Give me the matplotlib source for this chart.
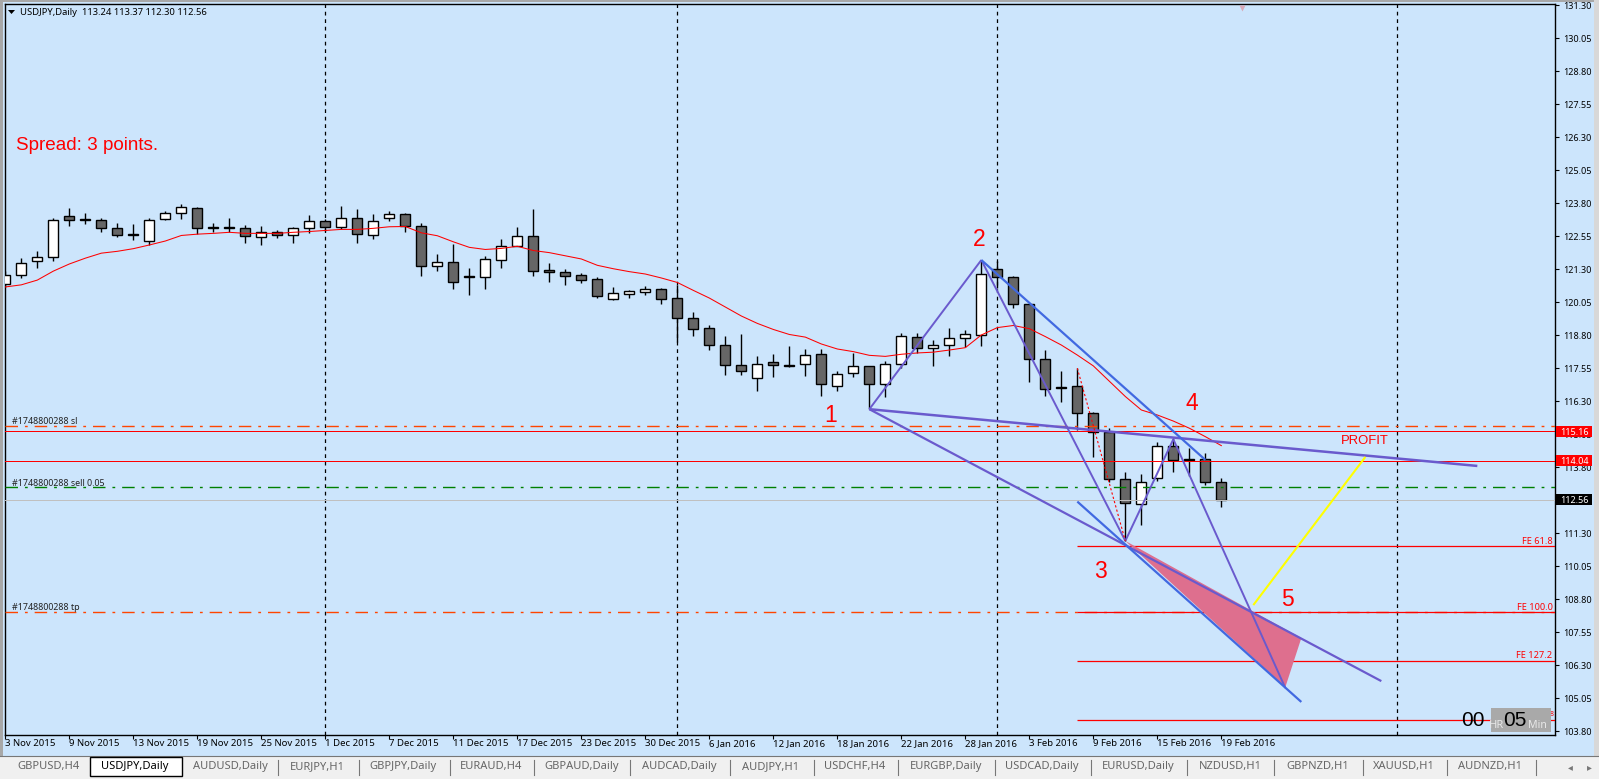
import matplotlib
matplotlib.use("Agg")
import matplotlib.pyplot as plt
from matplotlib.patches import Rectangle, Polygon
from matplotlib.transforms import blended_transform_factory

W, H = 1599, 779
BG = "#CCE5FC"
UI_FONT = ["Noto Sans", "DejaVu Sans"]
ARIAL = ["Liberation Sans", "DejaVu Sans"]

# ---------- data ----------
opens = [120.75,121.06,121.59,121.74,123.29,123.18,123.14,122.84,122.61,122.35,123.18,123.44,123.60,122.88,122.88,122.84,122.50,122.69,122.57,122.84,123.10,122.88,123.22,122.57,123.22,123.37,
         122.91,121.42,121.55,121.03,121.01,121.65,122.18,122.54,121.25,121.17,121.06,120.91,120.17,120.36,120.44,120.53,120.22,119.43,119.05,118.44,117.65,117.16,117.76,117.65,117.69,
         118.07,116.86,117.35,117.62,116.93,117.69,118.71,118.30,118.41,118.68,118.79,121.29,120.99,119.96,117.88,116.82,116.86,115.83,115.14,113.33,112.39,113.37,114.58,114.09,114.09,113.24]
highs = [121.22,121.70,122.00,123.25,123.60,123.44,123.22,123.06,123.00,123.25,123.48,123.75,123.63,123.03,123.25,122.95,122.91,122.76,122.88,123.33,123.20,123.67,123.56,123.37,123.48,123.41,
         123.03,121.85,122.23,121.32,121.79,122.42,122.88,123.56,121.51,121.29,121.13,120.98,120.60,120.49,120.64,120.57,120.69,119.69,119.16,118.75,118.82,117.99,118.07,118.37,118.26,
         118.26,117.43,118.11,117.64,117.80,118.86,118.86,118.60,119.05,118.99,121.64,121.60,121.04,119.97,118.22,117.43,117.54,115.87,115.27,113.61,113.54,114.75,114.91,114.51,114.32,113.37]
lows = [120.60,120.97,121.35,121.61,122.94,123.01,122.71,122.52,122.40,122.22,123.17,123.20,122.61,122.71,122.72,122.30,122.22,122.48,122.30,122.67,122.75,122.80,122.30,122.45,123.13,122.71,
        121.03,121.23,120.55,120.31,120.55,121.35,122.16,121.05,120.82,120.69,120.78,120.21,120.14,120.21,120.33,119.98,118.55,118.77,118.24,117.30,117.30,116.69,117.22,117.60,117.26,
        116.50,116.69,117.22,115.99,116.47,117.54,118.11,117.64,118.02,118.36,118.40,120.57,119.84,117.03,116.50,116.28,115.20,114.19,113.25,111.00,111.60,113.26,113.60,113.46,113.12,112.30]
closes = [121.06,121.54,121.74,123.14,123.14,123.14,122.84,122.57,122.57,123.14,123.44,123.63,122.84,122.84,122.84,122.54,122.69,122.57,122.84,123.10,122.88,123.25,122.61,123.10,123.37,122.91,
          121.42,121.55,120.82,121.01,121.66,122.19,122.54,121.23,121.17,121.05,120.89,120.29,120.38,120.45,120.53,120.17,119.43,119.01,118.43,117.65,117.42,117.72,117.65,117.62,118.03,
          116.93,117.31,117.62,116.93,117.69,118.75,118.30,118.41,118.68,118.83,121.10,120.99,119.96,117.88,116.74,116.78,115.83,115.13,113.33,112.43,113.22,114.58,114.07,114.07,113.22,112.56]
ma_values = [120.62,120.70,120.88,121.22,121.49,121.71,121.90,121.97,122.07,122.21,122.36,122.57,122.62,122.65,122.69,122.65,122.65,122.65,122.69,122.72,122.76,122.80,122.80,122.84,122.90,122.91,
             122.67,122.56,122.33,122.12,122.04,122.08,122.16,122.00,121.92,121.80,121.68,121.44,121.31,121.20,121.11,120.96,120.79,120.49,120.20,119.86,119.52,119.24,119.01,118.82,118.72,
             118.46,118.27,118.17,118.03,117.99,118.07,118.12,118.15,118.23,118.32,118.80,119.08,119.16,119.04,118.74,118.42,118.04,117.63,117.05,116.47,115.96,115.77,115.54,115.27,114.95,114.61]
date_labels = ["3 Nov 2015","9 Nov 2015","13 Nov 2015","19 Nov 2015","25 Nov 2015","1 Dec 2015","7 Dec 2015",
               "11 Dec 2015","17 Dec 2015","23 Dec 2015","30 Dec 2015","6 Jan 2016","12 Jan 2016","18 Jan 2016",
               "22 Jan 2016","28 Jan 2016","3 Feb 2016","9 Feb 2016","15 Feb 2016","19 Feb 2016"]
date_ticks = [0,4,8,12,16,20,24,28,32,36,40,44,48,52,56,60,64,68,72,76]
price_ticks = [131.30,130.05,128.80,127.55,126.30,125.05,123.80,122.55,121.30,120.05,118.80,117.55,116.30,
               115.05,113.80,112.55,111.30,110.05,108.80,107.55,106.30,105.05,103.80]
period_bars = [20,42,62,87]

# wave points (bar, price)
p1 = (54,115.99); p2 = (61,121.64); p3 = (70,111.00); p4 = (73,114.85)
purple_thin = [(p1,p2),(p2,p3),(p3,p4),(p4,(80,105.43))]
purple_lower = (p1,(86,105.69))
purple_upper = (p1,(92,113.84))
blue_upper = (p2,(75,114.07))
blue_lower = ((67,112.49),(81,104.90))
red_dotted = ((67,117.54),p3)
yellow_line = ((78,108.57),(85,114.18))
triangle = [p3,(81,107.32),(80,105.46)]

sl_price, tp_price, open_price = 115.34, 108.31, 113.03
stop_line, target_line, bid_line = 115.16, 114.04, 112.56
fe_levels = [110.81,108.31,106.47,104.22]
fe_names = ["FE 61.8","FE 100.0","FE 127.2"]
fe_start_bar = 67

tabs = ["GBPUSD,H4","USDJPY,Daily","AUDUSD,Daily","EURJPY,H1","GBPJPY,Daily","EURAUD,H4","GBPAUD,Daily",
        "AUDCAD,Daily","AUDJPY,H1","USDCHF,H4","EURGBP,Daily","USDCAD,Daily","EURUSD,Daily","NZDUSD,H1",
        "GBPNZD,H1","XAUUSD,H1","AUDNZD,H1"]
tab_centres = [48,135,230,317,403,491,582,679,770,855,946,1042,1138,1230,1318,1404,1490]
tab_seps = [278,359,450,534,630,730,814,898,995,1091,1187,1274,1363,1447,1536]

# ---------- layout ----------
fig = plt.figure(figsize=(W/100, H/100), dpi=100, facecolor=BG)
L, R, T, B = 4.5, 1554.5, 3.5, 734.5
ax = fig.add_axes([L/W, (H-B)/H, (R-L)/W, (B-T)/H], facecolor=BG)
def px(x, y):
    return x/W, 1-y/H
X0, DX = 5.33, 16.0
PY0, PS = 5.0, 33.0/1.25
ax.set_xlim((L-X0)/DX, (R-X0)/DX)
ax.set_ylim(131.30-(B-PY0)/PS, 131.30-(T-PY0)/PS)
for s in ax.spines.values():
    s.set_linewidth(1.0); s.set_color("black")

# window chrome
fig.patches.extend([
    Rectangle((0,0),3/W,1,transform=fig.transFigure,fc="#A8A8A8",ec="none"),
    Rectangle((0,1-1.5/H),1,1.5/H,transform=fig.transFigure,fc="#A8A8A8",ec="none"),
    Rectangle((1594/W,0),5/W,1,transform=fig.transFigure,fc="#D8D8D8",ec="none"),
    Rectangle((0,0),1,(H-756)/H,transform=fig.transFigure,fc="#F0F0F0",ec="none"),
])
fig.add_artist(plt.Line2D([0,1],[1-756/H]*2,color="#777777",lw=0.8))

# period separators
ax.vlines(period_bars, *ax.get_ylim(), color="black", lw=0.9, linestyles=(0,(3,3)), zorder=1)

# candles
bars = list(range(len(closes)))
ax.vlines(bars, lows, highs, color="black", lw=1.0, zorder=2)
bottoms = [min(o,c) for o,c in zip(opens,closes)]
heights = [abs(c-o) for o,c in zip(opens,closes)]
cols = ["white" if c>o else "#666666" for o,c in zip(opens,closes)]
ax.bar(bars, heights, bottom=bottoms, width=0.625, color=cols, edgecolor="black", lw=1.0, zorder=3)

# moving average
ax.plot(bars, ma_values, color="#FF0000", lw=0.75, zorder=4)

# order / level lines
ax.axhline(sl_price, color="#FF4500", lw=1.0, ls=(0,(9,5,2,5)), zorder=4)
ax.axhline(tp_price, color="#FF4500", lw=1.0, ls=(0,(9,5,2,5)), zorder=4)
ax.axhline(open_price, color="#008000", lw=1.0, ls=(0,(9,5,2,5)), zorder=4)
ax.axhline(stop_line, color="#FF0000", lw=0.72, zorder=4)
ax.axhline(target_line, color="#FF0000", lw=0.72, zorder=4)
ax.axhline(bid_line, color="#C0C0C0", lw=0.72, zorder=4)
ax.hlines(fe_levels, fe_start_bar, ax.get_xlim()[1], color="#FF0000", lw=0.9, zorder=4)

# wave objects
ax.add_patch(Polygon(triangle, closed=True, fc="#DE6F8E", ec="none", zorder=5))
def seg(pair, **kw):
    ax.plot([pair[0][0],pair[1][0]],[pair[0][1],pair[1][1]],zorder=6,solid_capstyle="butt",**kw)
for s in purple_thin:
    seg(s, color="#6A5ACD", lw=1.4)
seg(purple_lower, color="#6A5ACD", lw=1.6)
seg(purple_upper, color="#6A5ACD", lw=1.8)
seg(blue_upper, color="#4169E1", lw=1.6)
seg(blue_lower, color="#4169E1", lw=1.6)
seg(yellow_line, color="#FFFF00", lw=1.5)
ax.plot([red_dotted[0][0],red_dotted[1][0]],[red_dotted[0][1],red_dotted[1][1]],color="#FF0000",lw=0.8,ls=(0,(2,2)),zorder=6)
ax.plot([77.3],[131.2],marker="v",ms=5,color="#D9A9B8",mec="none",zorder=6,clip_on=True)

# ticks
ax.yaxis.tick_right()
ax.set_yticks(price_ticks)
ax.set_yticklabels([f"{v:.2f}" for v in price_ticks], fontsize=6.5, family=UI_FONT)
ax.set_xticks(date_ticks)
ax.set_xticklabels(date_labels, fontsize=6.9, family=UI_FONT, ha="left")
ax.tick_params(axis="y", length=3, width=0.8, pad=3)
ax.tick_params(axis="x", length=3, width=0.8, pad=0.5)

# price flags
flag_tf = blended_transform_factory(ax.transAxes, ax.transData)
flag_x0 = (1556-L)/(R-L)
flag_w = 36/(R-L)
flag_h = 11/PS
for price, colr in [(stop_line,"#FF0000"),(target_line,"#FF0000"),(bid_line,"#000000")]:
    ax.add_patch(Rectangle((flag_x0, price-flag_h/2), flag_w, flag_h, transform=flag_tf, fc=colr, ec="none",
                           clip_on=False, zorder=9))
    ax.text(1+(1560.5-R)/(R-L), price, f"{price:.2f}", transform=flag_tf, ha="left", va="center_baseline",
            fontsize=6.5, family=UI_FONT, color="white", zorder=10, clip_on=False)

# texts
fig.text(*px(20,12.5), "USDJPY,Daily  113.24 113.37 112.30 112.56", fontsize=6.8, family=UI_FONT, va="center", ha="left")
fig.add_artist(Polygon([px(8,10),px(15,10),px(11.5,14)], closed=True, fc="black", ec="none", transform=fig.transFigure))
fig.text(*px(15.5,146), "Spread: 3 points.", fontsize=13.6, family=ARIAL, color="#FF0000", va="center", ha="left")
for lab, x, y in [("1",831,415),("2",979,239),("3",1100,571),("4",1192,404),("5",1287,600)]:
    fig.text(*px(x,y), lab, fontsize=16.5, family=ARIAL, color="#FF0000", ha="center", va="center")
fig.text(*px(1364.5,441), "PROFIT", fontsize=9.4, family=ARIAL, color="#FF0000", ha="center", va="center")
for txt, y in [("#1748800288 sl",421.5),("#1748800288 sell 0.05",483),("#1748800288 tp",607.5)]:
    fig.text(*px(12,y), txt, fontsize=6.4, family=UI_FONT, color="#222222", ha="left", va="center")
for name, y in zip(fe_names, [541.5,607.5,655]):
    fig.text(*px(1552.5,y), name, fontsize=6.6, family=UI_FONT, color="#FF0000", ha="right", va="center")
fig.text(*px(1553.5,715), "8", fontsize=5, family=UI_FONT, color="#FF0000", ha="right", va="center")

# countdown box
box = Rectangle(px(1491,731.5), 59.5/W, 23.5/H, transform=fig.transFigure, fc="#A9A9A9", ec="none", zorder=3.5)
fig.add_artist(box)
fig.text(*px(1473,721), "00", fontsize=15, family=ARIAL, color="black", ha="center", va="center", zorder=4)
fig.text(*px(1515,720.5), "05", fontsize=15, family=ARIAL, color="black", ha="center", va="center", zorder=4)
fig.text(*px(1496,725), "HR", fontsize=8, family=UI_FONT, color="#E8E8E8", ha="center", va="center", zorder=4)
fig.text(*px(1537,725), "Min", fontsize=7.6, family=UI_FONT, color="#E8E8E8", ha="center", va="center", zorder=4)

# tab bar
tab_box = Rectangle(px(90,776), 92/W, 19/H, transform=fig.transFigure, fc="white", ec="black", lw=1.0, zorder=2)
fig.add_artist(tab_box)
for i,(name,x) in enumerate(zip(tabs,tab_centres)):
    fig.text(*px(x,767), name, fontsize=8, family=UI_FONT, color="black" if i==1 else "#666666", ha="center", va="center")
for x in tab_seps:
    fig.add_artist(plt.Line2D([x/W,x/W],[1-760/H,1-775/H],color="#777777",lw=0.8))
fig.text(*px(1570,767), "◂", fontsize=7, color="#777777", ha="center", va="center")
fig.text(*px(1589,767), "▸", fontsize=7, color="#777777", ha="center", va="center")

fig.savefig("out.png", dpi=100, facecolor=BG)
